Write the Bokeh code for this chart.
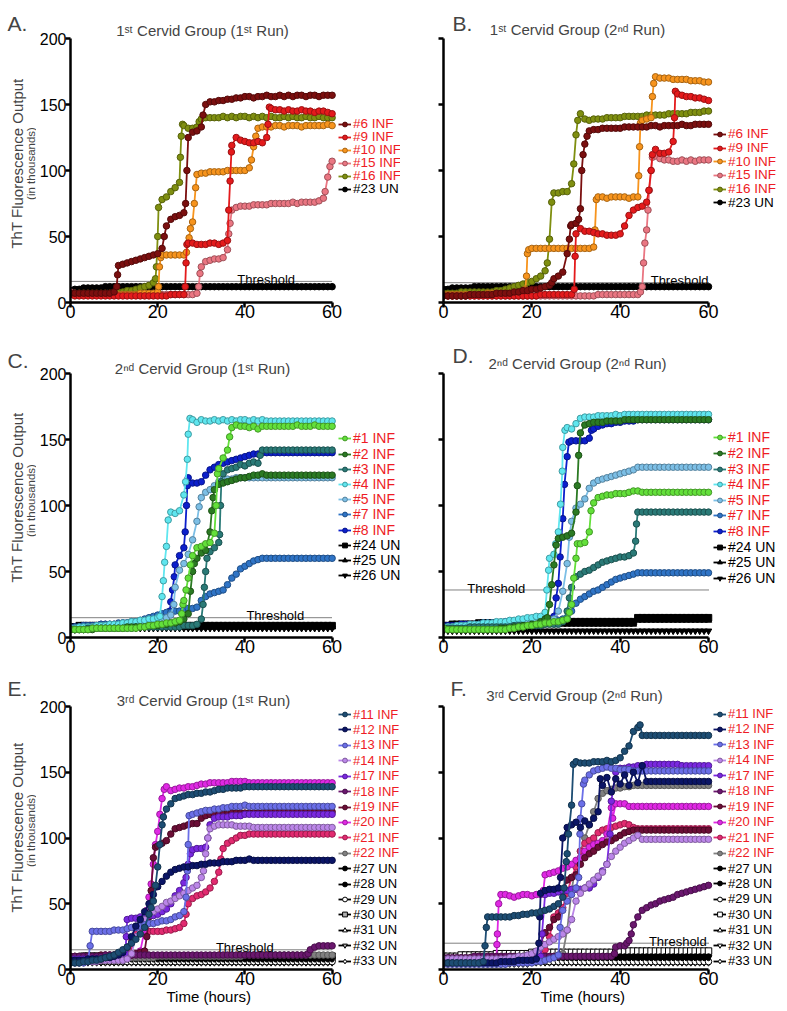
from bokeh.plotting import figure
from bokeh.models import Label, Legend, LegendItem, FixedTicker, Title
from bokeh.layouts import column, row
from bokeh.embed import file_html
from bokeh.resources import INLINE

HOURS = list(range(61))
X_LIMITS = [0, 60]
Y_LIMITS = [0, 200]

# ---------------- Panel A: 1st cervid group, 1st run ----------------
A_names = ["#6 INF", "#9 INF", "#10 INF", "#15 INF", "#16 INF", "#23 UN"]
A_6 = [7,7,7,7,7,7,7,7,7,7,
       8,28,29,30,31,32,33,34,35,36,
       37,41,58,63,65,66,68,125,129,130,
       133,150,152,152,153,153,154,154,155,155,
       156,156,155,156,156,157,156,156,157,156,
       157,156,157,157,156,157,157,156,157,157,
       157]
A_6x = [(10.6,12),(10.8,21),(21.5,50),(26.4,75),(26.7,100),(30.4,142)]
A_9 = [6,5,5,5,5,5,5,5,5,5,
       5,5,5,5,5,5,5,5,5,5,
       5,5,5,6,6,6,6,45,45,44,
       44,44,45,45,44,45,47,119,125,123,
       122,121,121,122,121,125,147,146,146,145,
       146,145,145,146,145,145,144,145,145,144,
       143]
A_9x = [(26.3,12),(26.5,30),(26.7,44),(36.3,70),(36.6,92),(36.9,114),(45.3,135),(45.6,148)]
A_10 = [6,6,6,6,6,6,6,6,6,6,
        6,6,6,6,6,6,7,7,7,7,
        8,36,36,36,36,36,36,45,61,97,
        98,98,99,99,99,99,100,100,100,100,
        100,102,118,132,133,133,133,134,134,133,
        134,134,134,133,134,134,134,134,134,135,
        134]
A_10x = [(20.2,12),(20.4,27),(20.7,34),(26.6,38),(27.2,49),(27.5,56),(28.4,75),(28.7,87),(41.5,108),(42.5,126)]
A_15 = [8,7,6,6,6,6,6,6,6,6,
        6,6,6,6,6,6,6,6,6,6,
        6,6,6,6,6,6,6,6,6,7,
        27,31,32,33,33,34,40,70,72,73,
        73,73,74,74,74,74,75,75,75,75,
        75,76,75,76,76,76,76,77,79,95,
        107]
A_15x = [(29.4,12),(29.7,22),(36.3,52),(36.6,60),(58.4,84),(59.5,103)]
A_16 = [7,7,7,7,7,7,7,7,7,7,
        7,8,8,9,9,10,11,12,13,15,
        50,78,80,84,87,91,134,132,132,133,
        139,140,140,140,140,141,140,141,140,141,
        141,140,141,140,141,140,141,140,140,141,
        140,141,140,140,141,140,140,141,140,140,
        140]
A_16x = [(19.5,18),(19.7,27),(20.2,72),(25.2,110),(25.4,126),(25.7,135),(29.5,137)]
A_23 = [9,10,10,11,11,11,11,11,12,12,
        12,12,12,12,12,12,12,12,12,12,
        12,12,12,12,12,12,12,12,12,12,
        12,12,12,12,12,12,12,12,12,12,
        12,12,12,12,12,12,12,12,12,12,
        12,12,12,12,12,12,12,12,12,12,
        12]
A_threshold = 16

# ---------------- Panel B: 1st cervid group, 2nd run ----------------
B_names = A_names
B_6 = [5,5,5,5,5,5,6,6,6,6,
       6,6,7,7,7,7,8,8,9,9,
       10,10,11,12,13,18,20,23,37,59,
       60,71,120,130,131,131,132,132,132,132,
       132,133,133,133,133,133,133,134,134,133,
       134,134,134,134,135,134,134,135,135,135,
       135]
B_6x = [(24.5,15),(28.5,48),(28.8,58),(30.6,63),(31.3,100),(31.6,112),(32.5,126)]
B_9 = [5,5,5,5,5,5,5,5,5,5,
       5,5,5,5,5,5,5,5,5,5,
       5,5,6,6,6,6,6,6,6,6,
       52,56,54,54,53,52,52,51,51,51,
       52,58,66,70,72,73,76,100,116,113,
       113,114,122,158,157,156,156,155,155,154,
       153]
B_9x = [(29.6,10),(29.8,35),(46.5,85),(47.3,112),(52.3,140),(52.5,160)]
B_10 = [6,6,6,6,6,6,6,6,6,6,
        7,7,7,7,7,7,7,7,8,37,
        41,41,41,41,41,41,41,41,41,41,
        41,41,41,41,42,80,80,79,80,80,
        80,80,79,80,80,138,139,140,171,170,
        170,170,169,169,169,169,168,168,168,167,
        167]
B_10x = [(18.5,10),(18.8,20),(19.3,40),(34.3,55),(34.6,78),(44.2,96),(44.4,118),(44.6,136),(47.3,156),(47.6,166)]
B_15 = [5,5,5,5,5,5,5,5,5,5,
        5,5,5,5,5,5,5,5,5,5,
        5,5,5,5,5,5,5,5,5,5,
        5,5,5,5,5,6,6,6,6,6,
        6,6,6,6,6,12,55,100,111,109,
        108,108,107,107,108,107,108,107,108,108,
        108]
B_15x = [(44.6,8),(45.3,30),(45.6,45),(46.3,70),(46.6,85),(47.3,110)]
B_16 = [7,7,7,7,8,8,8,8,8,8,
        8,8,9,9,10,11,12,13,14,15,
        16,18,20,24,48,83,83,84,84,90,
        127,143,139,138,139,139,139,140,140,140,
        140,141,141,141,141,141,142,142,142,142,
        142,143,143,143,143,143,144,144,144,145,
        145]
B_16x = [(23.5,30),(24.5,76),(29.5,105),(30.4,138)]
B_23 = [10,10,11,11,11,11,11,12,12,12,
        12,12,12,12,12,12,12,12,12,12,
        12,12,12,12,12,12,12,12,12,12,
        12,12,12,12,12,12,12,12,12,12,
        12,12,12,12,12,12,12,12,12,12,
        12,12,12,12,12,12,12,12,12,12,
        12]
B_threshold = 15

# ---------------- Panel C: 2nd cervid group, 1st run ----------------
C_names = ["#1 INF", "#2 INF", "#3 INF", "#4 INF", "#5 INF", "#7 INF", "#8 INF",
           "#24 UN", "#25 UN", "#26 UN"]
C_1 = [6,6,6,6,6,7,7,7,7,7,
       7,7,7,7,7,7,8,8,9,9,
       10,10,11,11,12,13,28,45,62,68,
       69,71,72,79,128,136,142,159,161,160,
       160,159,160,158,160,160,160,160,160,160,
       160,160,161,160,160,160,161,160,160,160,
       160]
C_1x = [(25.5,18),(25.8,25),(26.5,36),(27.5,55),(33.4,100),(33.7,124),(36.5,152)]
C_2 = [6,6,6,6,6,6,7,7,7,7,
       7,7,7,8,8,8,8,8,9,9,
       9,10,10,11,11,12,14,18,50,60,
       64,66,80,112,116,117,118,119,120,121,
       121,122,123,123,124,123,123,123,123,123,
       123,123,123,123,123,123,123,123,123,123,
       123]
C_2x = [(27.5,35),(28.4,56),(32.4,96),(32.7,106)]
C_3 = [6,6,6,6,7,7,7,7,7,7,
       7,7,7,7,7,8,8,8,8,8,
       8,8,8,8,8,8,9,9,9,10,
       14,50,65,68,72,124,127,128,129,131,
       130,132,133,132,142,142,142,142,142,142,
       142,142,142,142,142,142,142,142,142,142,
       142]
C_3x = [(30.4,25),(30.7,38),(31.3,60),(34.2,78),(34.4,100),(34.6,118),(43.5,138)]
C_4 = [7,7,8,8,8,8,9,9,9,10,
       10,10,11,11,12,12,13,13,14,14,
       15,31,69,95,94,96,108,154,165,163,
       165,164,164,165,164,165,164,165,164,165,
       165,164,165,164,165,164,164,164,164,164,
       164,164,164,164,164,164,164,164,164,164,
       164]
C_4x = [(20.5,16),(21.3,43),(21.6,57),(22.4,89),(26.4,118),(26.8,135),(27.4,166)]
C_5 = [7,7,7,7,8,8,8,8,9,9,
       9,9,10,10,10,11,11,11,12,12,
       13,14,15,17,38,51,56,63,74,88,
       106,110,112,115,118,120,120,120,121,121,
       121,121,121,121,121,121,121,121,121,121,
       121,121,121,121,121,121,121,121,121,121,
       121]
C_5x = [(23.7,25),(29.5,99)]
C_7 = [8,8,8,9,9,9,9,10,10,10,
       10,11,11,11,12,12,13,14,15,16,
       17,18,19,19,20,20,21,22,22,23,
       28,31,33,34,35,36,40,45,48,52,
       54,56,58,59,60,60,60,60,60,60,
       60,60,60,60,60,60,60,60,60,60,
       60]
C_8 = [8,8,8,9,9,9,9,10,10,10,
       10,10,11,11,11,12,12,13,13,14,
       14,14,15,27,55,62,68,121,117,117,
       118,123,127,129,131,132,133,134,135,136,
       137,138,139,139,140,140,140,140,140,140,
       140,140,140,140,140,140,140,140,140,140,
       140]
C_8x = [(22.8,20),(23.4,36),(23.8,46),(26.3,80),(26.6,100),(26.8,115)]
C_24 = [8,8,9,9,9,9,9,9,9,9,
        9,9,9,9,9,9,9,9,9,9,
        9,9,9,9,9,9,9,9,9,9,
        9,9,9,9,9,9,9,9,9,9,
        9,9,9,9,9,9,9,9,9,9,
        9,9,9,9,9,9,9,9,9,9,
        9]
C_25 = [7,7,8,8,8,8,8,8,8,8,
        8,8,8,8,8,8,8,8,8,8,
        8,8,8,8,8,8,8,8,8,8,
        8,8,8,8,8,8,8,8,8,8,
        8,8,8,8,8,8,8,8,8,8,
        8,8,8,8,8,8,8,8,8,8,
        8]
C_26 = [6,6,7,7,7,7,7,7,7,7,
        7,7,7,7,7,7,7,7,7,7,
        7,7,7,7,7,7,7,7,7,7,
        7,7,7,7,7,7,7,7,7,7,
        7,7,7,7,7,7,7,7,7,7,
        7,7,7,7,7,7,7,7,7,7,
        7]
C_threshold = 15

# ---------------- Panel D: 2nd cervid group, 2nd run ----------------
D_names = C_names
D_1 = [7,6,6,6,6,6,6,6,6,6,
       6,6,6,6,6,7,7,8,8,9,
       9,10,10,11,11,12,12,13,14,25,
       60,71,72,80,102,106,107,108,108,109,
       109,109,110,111,111,110,110,110,110,110,
       110,110,110,110,110,110,110,110,110,110,
       110]
D_1x = [(28.5,19),(29.5,45),(30.3,71),(33.4,96)]
D_2 = [7,6,6,6,6,6,6,6,6,6,
       6,6,6,7,7,7,8,8,9,9,
       10,10,12,14,25,55,75,76,77,79,
       95,155,161,162,163,163,163,164,164,164,
       164,165,165,165,165,165,165,165,165,165,
       165,165,165,165,165,165,165,165,165,165,
       165]
D_2x = [(23.5,15),(24.5,40),(25.5,70),(30.3,115),(30.6,138)]
D_3 = [7,7,7,7,7,7,8,8,8,8,
       8,8,8,8,8,8,9,9,9,9,
       9,9,9,10,10,10,10,12,20,38,
       46,48,50,51,53,55,57,58,59,60,
       61,61,62,64,95,95,95,95,95,95,
       95,95,95,95,95,95,95,95,95,95,
       95]
D_3x = [(28.5,30),(43.5,73),(43.7,86)]
D_4 = [8,8,8,9,9,9,10,10,10,11,
       11,11,12,12,12,13,13,14,14,15,
       15,16,16,19,60,63,80,144,159,158,
       162,166,167,167,167,168,168,168,168,169,
       168,169,169,169,169,169,169,169,169,169,
       169,169,169,169,169,169,169,169,169,169,
       169]
D_4x = [(23.4,36),(23.8,51),(25.4,71),(26.5,101),(26.9,126),(27.5,157)]
D_5 = [8,8,8,8,8,9,9,9,9,9,
       9,10,10,10,10,10,11,11,11,12,
       12,12,12,13,13,14,20,35,56,88,
       98,101,105,113,117,119,120,121,122,123,
       124,125,126,127,129,129,129,129,129,129,
       129,129,129,129,129,129,129,129,129,129,
       129]
D_5x = [(28.5,76)]
D_7 = [8,8,8,8,9,9,9,9,9,10,
       10,10,10,10,11,11,11,11,12,12,
       12,12,12,12,13,13,13,14,15,20,
       26,29,31,33,35,36,38,40,42,44,
       45,46,47,48,49,49,49,49,49,49,
       49,49,49,49,49,49,49,49,49,49,
       49]
D_8 = [9,9,9,9,10,10,10,10,10,11,
       11,11,11,11,12,12,12,12,13,13,
       13,13,14,14,14,16,41,90,137,149,
       149,149,149,151,158,160,161,162,162,163,
       163,164,164,164,165,165,165,165,165,165,
       165,165,165,165,165,165,165,165,165,165,
       165]
D_8x = [(25.5,30),(26.4,61),(27.4,116),(28.4,148),(33.5,157)]
D_24 = [9,9,10,10,10,10,10,10,11,11,
        11,11,11,11,11,11,11,11,11,11,
        11,11,12,12,12,12,12,12,12,12,
        12,12,12,12,12,12,12,12,12,12,
        12,12,12,12,15,15,15,15,15,15,
        15,15,15,15,15,15,15,15,15,15,
        15]
D_25 = [7,8,8,8,8,8,9,9,9,9,
        9,9,9,9,9,9,10,10,10,10,
        10,10,10,10,10,10,10,10,10,10,
        10,10,10,10,10,10,10,10,10,10,
        10,10,10,10,13,13,13,13,13,13,
        13,13,13,13,13,13,13,13,13,13,
        13]
D_26 = [5,5,5,5,5,5,5,5,5,5,
        5,5,5,5,5,5,5,5,5,5,
        5,5,5,5,5,5,5,5,5,5,
        5,5,5,5,5,5,5,5,5,5,
        5,5,5,5,5,5,5,5,5,5,
        5,5,5,5,5,5,5,5,5,5,
        5]
D_threshold = 36

# ---------------- Panel E: 3rd cervid group, 1st run ----------------
E_names = ["#11 INF", "#12 INF", "#13 INF", "#14 INF", "#17 INF", "#18 INF", "#19 INF",
           "#20 INF", "#21 INF", "#22 INF", "#27 UN", "#28 UN", "#29 UN", "#30 UN",
           "#31 UN", "#32 UN", "#33 UN"]
E_11 = [5,5,5,6,6,7,7,8,9,10,
        11,13,15,17,20,23,27,32,42,52,
        78,110,122,126,130,131,132,133,133,134,
        134,135,135,136,137,137,138,138,138,138,
        139,139,139,139,139,139,139,139,139,139,
        139,139,139,139,139,139,139,139,139,139,
        139]
E_11x = [(18.5,47),(19.5,64),(20.5,95),(21.3,116)]
E_12 = [7,7,7,7,8,8,8,8,9,9,
        10,11,13,17,25,33,38,44,50,57,
        63,67,71,74,76,77,78,78,79,79,
        80,80,81,81,81,82,82,82,83,83,
        83,84,83,83,83,83,83,83,83,83,
        83,83,83,83,83,83,83,83,83,83,
        83]
E_13 = [5,5,5,5,6,29,29,29,29,29,
        30,30,30,31,32,32,33,34,35,35,
        36,37,37,38,40,41,44,95,118,119,
        120,121,121,122,122,123,123,124,124,124,
        125,124,124,124,124,124,124,124,124,124,
        124,124,124,124,124,124,124,124,124,124,
        124]
E_13x = [(4.5,18),(26.5,55),(26.8,75),(27.2,117)]
E_14 = [6,6,6,6,6,6,6,7,7,7,
        7,7,7,8,12,25,33,38,42,44,
        46,48,51,52,54,56,58,60,62,64,
        70,88,107,109,110,110,110,110,109,109,
        109,109,108,108,108,108,108,108,108,108,
        108,108,108,108,108,108,108,108,108,108,
        108]
E_14x = [(30.5,75),(31.5,100)]
E_17 = [8,8,8,8,8,8,8,8,9,9,
        9,9,10,38,39,39,40,40,41,41,
        42,44,46,50,56,60,66,80,91,92,
        92,93,110,115,116,116,116,117,117,117,
        118,118,118,118,118,118,118,118,118,118,
        118,118,118,118,118,118,118,118,118,118,
        118]
E_17x = [(12.6,12),(12.8,25),(26.5,70),(27.5,88),(31.5,100)]
E_18 = [10,10,10,10,10,10,10,10,11,11,
        11,11,11,11,11,11,11,11,11,11,
        11,11,11,11,11,11,11,11,11,11,
        11,11,11,11,11,11,11,11,11,11,
        11,11,11,11,11,11,11,11,11,11,
        11,11,11,11,11,15,17,18,18,18,
        18]
E_18x = [(54.5,12)]
E_19 = [10,10,10,10,10,10,10,11,11,11,
        11,11,11,11,11,12,13,14,40,85,
        94,96,98,103,107,108,109,110,111,111,
        115,117,118,118,118,118,118,119,119,119,
        119,119,119,119,119,120,120,120,120,120,
        120,120,120,120,120,120,120,120,120,120,
        120]
E_19x = [(17.5,25),(18.5,60),(19.5,93)]
E_20 = [9,9,9,9,9,9,9,9,9,9,
        10,10,10,11,11,12,14,30,55,80,
        105,130,139,136,137,138,138,139,139,140,
        141,141,142,142,142,142,142,143,143,143,
        143,142,142,142,142,142,142,142,142,142,
        142,142,142,142,142,142,142,142,142,142,
        142]
E_20x = [(17.5,45),(18.5,65),(19.5,95),(20.5,118),(21.5,137)]
E_21 = [8,8,8,8,8,8,8,9,9,9,
        9,10,11,12,22,27,28,29,29,29,
        29,29,30,30,31,32,35,50,54,56,
        57,59,62,67,74,92,96,98,100,102,
        102,103,103,103,103,103,103,103,103,103,
        103,103,103,103,103,103,103,103,103,103,
        103]
E_21x = [(13.5,17),(26.5,42),(34.5,84)]
E_22 = [9,9,9,9,9,9,9,9,9,9,
        9,9,9,9,9,9,9,9,9,9,
        10,10,10,10,10,10,10,10,10,10,
        10,10,10,10,10,10,10,10,10,10,
        11,11,11,11,11,11,11,11,11,11,
        11,11,11,11,11,11,11,11,11,11,
        11]
E_27 = [7,7,7,7,7,7,7,7,7,7,
        7,7,7,7,7,7,7,7,7,7,
        7,7,7,7,7,7,7,7,7,7,
        7,7,7,7,7,7,7,7,7,7,
        7,7,7,7,7,7,7,7,7,7,
        7,7,7,7,7,7,7,7,7,7,
        7]
E_28 = [8,8,8,9,9,9,9,9,9,9,
        9,9,9,9,9,9,9,9,9,9,
        9,9,9,9,9,9,9,9,9,9,
        9,9,9,9,9,9,9,9,9,9,
        9,9,9,9,9,9,9,9,9,9,
        9,9,9,9,9,9,9,9,9,9,
        9]
E_29 = [6,6,6,6,6,6,6,6,6,6,
        6,6,6,6,6,6,6,6,6,6,
        6,6,6,6,6,6,6,6,6,6,
        6,6,6,6,6,6,6,6,6,6,
        6,6,6,6,6,6,6,6,6,6,
        6,6,6,6,6,6,6,6,6,6,
        6]
E_30 = [9,9,9,10,10,10,10,10,10,10,
        10,10,10,10,10,10,10,10,10,10,
        10,10,10,10,10,10,10,10,10,10,
        10,10,10,10,10,10,10,10,10,10,
        10,10,10,10,10,10,10,10,10,10,
        10,10,10,10,10,10,10,10,10,10,
        10]
E_31 = [8,8,8,8,8,8,8,8,8,8,
        8,8,8,8,8,8,8,8,8,8,
        8,8,8,8,8,8,8,8,8,8,
        8,8,8,8,8,8,8,8,8,8,
        8,8,8,8,8,8,8,8,8,8,
        8,8,8,8,8,8,8,8,8,8,
        8]
E_32 = [10,10,10,11,11,11,11,11,11,11,
        11,11,11,11,11,11,11,11,11,11,
        11,11,11,11,11,11,11,11,11,11,
        11,11,11,11,11,11,11,11,11,11,
        11,11,11,11,11,11,11,11,11,11,
        11,11,11,11,11,11,11,11,11,11,
        11]
E_33 = [5,5,5,5,5,5,5,5,5,5,
        5,5,5,5,5,5,5,5,5,5,
        5,5,5,5,5,5,5,5,5,5,
        5,5,5,5,5,5,5,5,5,5,
        5,5,5,5,5,5,5,5,5,5,
        5,5,5,5,5,5,5,5,5,5,
        5]
E_threshold = 15

# ---------------- Panel F: 3rd cervid group, 2nd run ----------------
F_names = E_names
F_11 = [5,5,5,5,5,5,5,5,5,6,
        40,40,40,40,40,40,41,41,42,42,
        43,43,44,45,46,48,50,55,88,125,
        158,157,157,157,158,158,158,159,158,159,
        161,166,170,181,184,178,178,178,178,178,
        178,178,178,178,178,178,178,178,178,178,
        178]
F_11x = [(9.4,18),(9.7,32),(27.3,62),(27.8,82),(28.3,103),(29.4,156),(44.5,186)]
F_12 = [5,5,5,5,5,5,5,5,5,5,
        5,5,5,6,6,6,6,7,7,7,
        7,8,58,60,61,61,62,100,108,110,
        112,108,113,110,115,120,140,146,135,145,
        141,148,140,150,142,155,143,143,143,143,
        143,143,143,143,143,143,143,143,143,143,
        143]
F_12x = [(21.6,20),(21.8,40),(26.5,70),(35.5,145)]
F_13 = [4,4,4,4,4,4,4,4,4,4,
        4,4,4,4,4,5,5,5,5,5,
        5,6,6,7,8,9,11,45,52,57,
        62,115,144,148,151,152,153,154,153,153,
        152,152,152,151,151,151,151,151,151,151,
        151,151,151,151,151,151,151,151,151,151,
        151]
F_13x = [(26.4,32),(30.6,70),(30.9,103),(31.3,126),(31.7,141)]
F_14 = [8,8,8,8,8,8,8,8,8,8,
        8,8,8,8,8,9,9,10,10,11,
        12,14,17,19,21,23,25,27,30,38,
        52,58,62,65,68,71,74,80,86,90,
        93,96,98,100,102,99,99,99,99,99,
        99,99,99,99,99,99,99,99,99,99,
        99]
F_17 = [6,6,6,6,6,6,6,6,6,6,
        6,6,6,6,7,7,7,7,8,8,
        8,9,10,57,58,58,59,60,60,61,
        61,61,62,62,65,70,75,80,128,150,
        153,153,154,154,155,155,156,156,156,156,
        156,156,156,156,155,155,155,155,155,155,
        155]
F_17x = [(22.3,27),(37.7,103)]
F_18 = [9,9,9,9,9,9,9,10,10,10,
        10,10,10,10,10,10,10,10,10,10,
        10,10,10,10,10,10,10,10,10,10,
        10,10,10,10,10,10,10,10,10,17,
        18,18,22,34,40,45,47,49,50,52,
        53,54,55,57,58,59,60,61,62,63,
        64]
F_18x = [(38.7,12),(41.5,20),(42.5,27)]
F_19 = [8,8,8,8,8,8,8,8,8,8,
        8,8,8,8,8,9,9,9,9,10,
        10,11,20,28,32,38,40,60,68,70,
        72,80,85,88,90,93,95,97,98,100,
        102,104,105,106,106,106,106,106,106,106,
        106,106,106,106,106,106,106,106,106,106,
        106]
F_20 = [7,7,7,7,7,7,7,7,7,7,
        7,8,8,57,57,56,55,56,57,57,
        56,57,57,72,73,74,75,77,78,80,
        83,85,90,93,95,96,98,103,123,126,
        126,126,124,124,124,124,124,124,124,124,
        124,124,124,124,124,124,124,124,124,124,
        124]
F_20x = [(12.1,19),(12.2,27),(12.5,50),(22.6,60),(38.3,115)]
F_21 = [6,6,6,6,6,6,6,6,6,6,
        6,6,6,6,7,7,7,7,8,8,
        8,9,10,15,25,40,43,47,58,70,
        78,90,96,98,100,104,106,107,108,109,
        110,111,110,108,107,107,107,107,107,107,
        107,107,107,107,107,107,107,107,107,107,
        107]
F_22 = [6,6,6,6,6,6,6,6,6,6,
        6,6,6,6,7,7,7,7,8,8,
        8,8,9,9,9,10,10,12,30,60,
        80,90,100,110,120,130,134,136,137,138,
        138,139,139,140,140,140,140,140,140,140,
        140,140,140,140,140,140,140,140,140,140,
        140]
F_27 = [7,7,7,7,7,7,7,7,7,7,
        7,7,7,7,7,7,7,7,7,7,
        8,8,8,8,8,8,8,8,8,8,
        8,8,8,8,8,8,8,8,8,8,
        8,8,8,8,8,8,8,8,8,8,
        8,8,8,8,8,8,8,8,8,8,
        8]
F_28 = [8,8,8,8,8,8,8,8,9,9,
        9,9,9,9,9,9,9,9,9,9,
        10,10,10,10,10,10,10,10,10,10,
        10,10,10,10,10,10,10,10,10,10,
        10,10,10,10,10,10,10,10,10,10,
        10,10,10,10,10,10,10,10,10,10,
        10]
F_29 = [5,5,5,5,5,5,5,5,5,5,
        5,5,5,5,5,5,5,5,5,5,
        6,6,6,6,6,6,6,6,6,6,
        6,6,6,6,6,6,6,6,6,6,
        6,6,6,6,6,6,6,6,6,6,
        6,6,6,6,6,6,6,6,6,6,
        6]
F_30 = [10,10,10,10,11,11,11,11,11,11,
        11,11,12,12,12,12,12,12,12,12,
        13,13,13,13,13,13,13,13,13,13,
        13,13,13,13,13,13,13,13,13,13,
        14,14,14,14,14,14,14,14,14,14,
        14,14,14,14,14,14,14,14,14,14,
        14]
F_31 = [9,9,9,9,9,9,10,10,10,10,
        10,10,10,10,10,10,11,11,11,11,
        11,11,11,11,11,11,11,11,11,11,
        11,11,11,11,11,11,11,11,11,11,
        12,12,12,12,12,12,12,12,12,12,
        12,12,12,12,12,12,12,12,12,12,
        12]
F_32 = [7,7,7,7,7,7,7,7,8,8,
        8,8,8,8,8,8,8,8,8,8,
        9,9,9,9,9,9,9,9,9,9,
        9,9,9,9,9,9,9,9,9,9,
        9,9,9,9,9,9,9,9,9,9,
        9,9,9,9,9,9,9,9,9,9,
        9]
F_33 = [4,4,4,4,4,4,4,4,4,4,
        4,4,4,4,4,4,4,4,4,4,
        5,5,5,5,5,5,5,5,5,5,
        5,5,5,5,5,5,5,5,5,5,
        5,5,5,5,5,5,5,5,5,5,
        5,5,5,5,5,5,5,5,5,5,
        5]
F_threshold = 20

# ---------------- styling ----------------
RED_TEXT = "#ee1c25"
FONT = "Liberation Sans"
COL_AB = ["#7b0f0f", "#e41a1c", "#f7941d", "#ea7682", "#7f8f10", "#000000"]
COL_CD = ["#63e03a", "#2b7a23", "#2a7a77", "#5fe6ef", "#7cbfe6", "#2f74c6", "#0c1fcc",
          "#000000", "#000000", "#000000"]
COL_EF = ["#1d4d73", "#0b1566", "#6b6fe8", "#bb86e8", "#7a28e0", "#6a176e", "#6b0e36",
          "#e028e4", "#e22a70", "#808080"] + ["#000000"] * 7
MK_AB = ["circle"] * 6
MK_CD = ["circle"] * 7 + ["square", "triangle", "inverted_triangle"]
MK_EF = ["circle"] * 10 + ["circle", "circle", "circle", "square", "triangle",
                           "inverted_triangle", "diamond"]

ST = "1\u02e2\u1d57"
ND = "2\u207f\u1d48"
RD = "3\u02b3\u1d48"

W = 787
ROW_TOP = [0, 335, 668]
ROW_H = [335, 333, 343]
STRIP_W = 36
MARKER = 6.5
LINE_W = 1.8


def darker(c, f=0.68):
    r, g, b = int(c[1:3], 16), int(c[3:5], 16), int(c[5:7], 16)
    return "#%02x%02x%02x" % (int(r * f), int(g * f), int(b * f))


def merge(hourly, extra):
    assert len(hourly) == 61, len(hourly)
    pts = sorted(list(zip(HOURS, hourly)) + list(extra))
    return [a for a, _ in pts], [b for _, b in pts]


def un_style(panel, name):
    if panel in ("E", "F"):
        n = name.split()[0]
        if n == "#27":
            return 3.5, "#000000"
        if n == "#28":
            return 5, "#000000"
        if n in ("#30", "#32") and panel == "E":
            return MARKER, "#b0b0b0"
        return MARKER, "#ffffff"
    return MARKER, "#000000"


def build(cfg):
    x0, x60 = cfg["x0"], cfg["x60"]          # page x of t=0 and t=60
    yb, y200 = cfg["yb"], cfg["y200"]        # page y of 0 and 200
    left, right = cfg["left"], cfg["right"]  # page x extent of the figure
    top = ROW_TOP[cfg["row"]]
    h = ROW_H[cfg["row"]]
    xend = 60.0 * (right - x0) / (x60 - x0)
    yend = 200.0 * (yb - top) / (yb - y200)
    p = figure(width=right - left, height=h, x_range=(0, xend), y_range=(0, yend),
               toolbar_location=None, output_backend="svg", title=None,
               min_border_left=x0 - left, min_border_right=0,
               min_border_top=0, min_border_bottom=top + h - yb)
    p.outline_line_color = None
    p.xgrid.visible = False
    p.ygrid.visible = False
    p.xaxis.bounds = tuple(X_LIMITS)
    p.yaxis.bounds = tuple(Y_LIMITS)
    p.xaxis.ticker = FixedTicker(ticks=[0, 20, 40, 60])
    p.yaxis.ticker = FixedTicker(ticks=[0, 50, 100, 150, 200])
    for ax in (p.xaxis, p.yaxis):
        ax.axis_line_width = 2.5
        ax.axis_line_color = "black"
        ax.major_tick_line_width = 2.5
        ax.major_tick_line_color = "black"
        ax.major_tick_out = 5
        ax.major_tick_in = 0
        ax.minor_tick_line_color = None
        ax.major_label_text_font = FONT
        ax.major_label_text_color = "black"
    p.xaxis.major_label_text_font_size = "18px"
    p.xaxis.major_label_standoff = -3
    p.yaxis.major_label_text_font_size = "16px"
    p.yaxis.major_label_standoff = -1
    if not cfg["ylabels"]:
        p.yaxis.major_label_overrides = {0: "", 50: "", 100: "", 150: "", 200: ""}

    fl, fb = x0, yb
    names, series, extras = cfg["names"], cfg["series"], cfg["extras"]
    cols, mks = cfg["colors"], cfg["markers"]

    thr = cfg["thr"]
    p.segment(x0=[X_LIMITS[0]], y0=[thr], x1=[X_LIMITS[1]], y1=[thr],
              line_color="#000000", line_dash="1 1", line_width=1)

    rends = [None] * len(names)
    for i in reversed(range(len(names))):
        xs, ys = merge(series[i], extras[i])
        c = cols[i]
        if "UN" in names[i]:
            sz, fc = un_style(cfg["panel"], names[i])
            lc = "#000000"
        else:
            sz, fc, lc = MARKER, c, darker(c)
        lr = p.line(xs, ys, line_color=c, line_width=LINE_W)
        sr = p.scatter(xs, ys, marker=mks[i], size=sz, fill_color=fc, line_color=lc,
                       line_width=1)
        rends[i] = (lr, sr)

    p.add_layout(Label(x=cfg["thr_x"], y=thr + 1.5, text="Threshold",
                       text_align=cfg["thr_align"], text_baseline="alphabetic",
                       text_font=FONT, text_font_size="13px", text_color="black"))

    # legend: one entry per Legend so that each label keeps its own colour
    gx, cy0, dy, fs, half = cfg["leg"]
    for i, nm in enumerate(names):
        cy = cy0 + dy * i
        item = LegendItem(label=nm, renderers=list(rends[i]))
        leg = Legend(items=[item], location=(gx - fl, max(0.5, fb - cy - half)),
                     padding=0, margin=0, spacing=0, border_line_color=None,
                     background_fill_alpha=0, glyph_width=13, glyph_height=12,
                     label_standoff=2, label_height=12,
                     label_text_font=FONT, label_text_font_size=fs,
                     label_text_color=(RED_TEXT if "INF" in nm else "black"))
        p.add_layout(leg)

    tx, ty = cfg["title_pos"]
    p.add_layout(Label(x=tx - fl, y=fb - ty, x_units="screen", y_units="screen",
                       text=cfg["title"], text_font=FONT, text_font_size="15px",
                       text_baseline="alphabetic", text_align="center"))
    if cfg.get("letter_in"):
        lx, ly = cfg["letter_pos"]
        p.add_layout(Label(x=lx - fl, y=fb - ly, x_units="screen", y_units="screen",
                           text=cfg["letter"], text_font=FONT, text_font_size="21px",
                           text_baseline="alphabetic", text_align="left"))
    if cfg.get("xlabel_left"):
        p.add_layout(Title(text="Time (hours)", align="left",
                           offset=cfg["xlabel_left"] - fl, vertical_align="top",
                           standoff=0, text_font=FONT, text_font_size="15px",
                           text_font_style="normal", text_color="black"), "below")
    return p


def strip(rowi, yb, letter, letter_base, ylab_cy, thou_cy):
    # the strip's frame lines up with the frame of the plots in its row
    h = ROW_H[rowi]
    s = figure(width=STRIP_W, height=h, x_range=(0, STRIP_W), y_range=(0, h),
               toolbar_location=None, output_backend="svg", title=None,
               x_axis_location=None, y_axis_location=None,
               min_border_left=0, min_border_right=0, min_border_top=0,
               min_border_bottom=0)
    s.outline_line_color = None
    s.xgrid.visible = False
    s.ygrid.visible = False
    s.add_layout(Label(x=7, y=yb - letter_base, x_units="screen", y_units="screen",
                       text=letter, text_font=FONT, text_font_size="21px",
                       text_baseline="alphabetic", text_align="left"))
    s.add_layout(Label(x=16.5, y=yb - ylab_cy, x_units="screen", y_units="screen",
                       text="ThT Fluorescence Output", angle=1.5707963,
                       text_font=FONT, text_font_size="15px",
                       text_align="center", text_baseline="middle"))
    s.add_layout(Label(x=30.5, y=yb - thou_cy, x_units="screen", y_units="screen",
                       text="(in thousands)", angle=1.5707963,
                       text_font=FONT, text_font_size="11.5px",
                       text_align="center", text_baseline="middle"))
    return s


LEFT_FIG = dict(left=STRIP_W, right=400, x0=67, x60=331, ylabels=True)
RIGHT_FIG = dict(left=400, right=W, x0=443, x60=708, ylabels=False, letter_in=True)

cfgA = dict(LEFT_FIG, panel="A", row=0, yb=302, y200=38, names=A_names,
            series=[A_6, A_9, A_10, A_15, A_16, A_23],
            extras=[A_6x, A_9x, A_10x, A_15x, A_16x, []], colors=COL_AB, markers=MK_AB,
            thr=A_threshold, thr_x=51.5, thr_align="right",
            leg=(335, 123.3, 13.0, "13.5px", 8),
            title=ST + " Cervid Group (" + ST + " Run)", title_pos=(199, 30))
cfgB = dict(RIGHT_FIG, panel="B", row=0, yb=302, y200=38, names=B_names,
            series=[B_6, B_9, B_10, B_15, B_16, B_23],
            extras=[B_6x, B_9x, B_10x, B_15x, B_16x, []], colors=COL_AB, markers=MK_AB,
            thr=B_threshold, thr_x=60, thr_align="right",
            leg=(713, 133.3, 13.7, "13.5px", 8), letter="B.", letter_pos=(452, 23),
            title=ST + " Cervid Group (" + ND + " Run)", title_pos=(577, 29))
cfgC = dict(LEFT_FIG, panel="C", row=1, yb=637, y200=373, names=C_names,
            series=[C_1, C_2, C_3, C_4, C_5, C_7, C_8, C_24, C_25, C_26],
            extras=[C_1x, C_2x, C_3x, C_4x, C_5x, [], C_8x, [], [], []],
            colors=COL_CD, markers=MK_CD, thr=C_threshold, thr_x=53.6, thr_align="right",
            leg=(335, 438.3, 15.2, "14px", 8),
            title=ND + " Cervid Group (" + ST + " Run)", title_pos=(199, 368))
cfgD = dict(RIGHT_FIG, panel="D", row=1, yb=637, y200=373, names=D_names,
            series=[D_1, D_2, D_3, D_4, D_5, D_7, D_8, D_24, D_25, D_26],
            extras=[D_1x, D_2x, D_3x, D_4x, D_5x, [], D_8x, [], [], []],
            colors=COL_CD, markers=MK_CD, thr=D_threshold, thr_x=5.4, thr_align="left",
            leg=(713, 437.3, 15.6, "14px", 8), letter="D.", letter_pos=(452, 355),
            title=ND + " Cervid Group (" + ND + " Run)", title_pos=(577, 363))
cfgE = dict(LEFT_FIG, panel="E", row=2, yb=969, y200=706, names=E_names,
            series=[E_11, E_12, E_13, E_14, E_17, E_18, E_19, E_20, E_21, E_22,
                    E_27, E_28, E_29, E_30, E_31, E_32, E_33],
            extras=[E_11x, [], E_13x, E_14x, E_17x, E_18x, E_19x, E_20x, E_21x, [],
                    [], [], [], [], [], [], []],
            colors=COL_EF, markers=MK_EF, thr=E_threshold, thr_x=46.6, thr_align="right",
            leg=(335, 714.0, 15.42, "13px", 7.5),
            title=RD + " Cervid Group (" + ST + " Run)", title_pos=(200, 700),
            xlabel_left=163)
cfgF = dict(RIGHT_FIG, panel="F", row=2, yb=969, y200=706, names=F_names,
            series=[F_11, F_12, F_13, F_14, F_17, F_18, F_19, F_20, F_21, F_22,
                    F_27, F_28, F_29, F_30, F_31, F_32, F_33],
            extras=[F_11x, F_12x, F_13x, [], F_17x, F_18x, [], F_20x, [], [],
                    [], [], [], [], [], [], []],
            colors=COL_EF, markers=MK_EF, thr=F_threshold, thr_x=59.6, thr_align="right",
            leg=(713, 713.5, 15.45, "13px", 7.5), letter="F.", letter_pos=(450, 688),
            title=RD + " Cervid Group (" + ND + " Run)", title_pos=(574, 695),
            xlabel_left=540)

pA, pB, pC, pD, pE, pF = [build(c) for c in (cfgA, cfgB, cfgC, cfgD, cfgE, cfgF)]
sA = strip(0, 302, "A.", 23, 163, 163)
sC = strip(1, 637 - 335, "C.", 360 - 335, 497 - 335, 500 - 335)
sE = strip(2, 969 - 668, "E.", 688 - 668, 827 - 668, 830 - 668)
layout = column(row(sA, pA, pB), row(sC, pC, pD), row(sE, pE, pF))
open("out.html", "w").write(file_html(layout, INLINE))
